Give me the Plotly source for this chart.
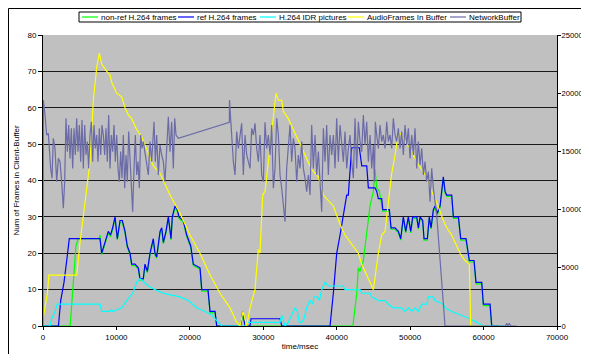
import plotly.graph_objects as go

# ---------------- data ----------------
# non-ref H.264 frames (left axis)
nonref_t = [0, 3700, 4130, 4490, 4810, 7620, 7760, 7990, 8440, 8890, 9190, 9490, 9810, 10120, 10490, 10800,
            11170, 11480, 11850, 12080, 12530, 12980, 13210, 13660, 13890, 14210, 14570, 15020, 15250, 15480,
            15940, 16170, 16390, 16750, 17070, 17300, 17430, 17610, 17980, 18290, 18520, 19110, 19570, 20120,
            20470, 21380, 21620, 22470, 22750, 23430, 23660, 26900, 27200, 27510, 42200, 42730, 42940, 43170,
            43630, 44090, 44540, 44990, 45220, 45450, 45810, 46270, 47170, 47400, 47940, 48390, 48720, 49070,
            49400, 49750, 50080, 50350, 50900, 51120, 51350, 51710, 51890, 52340, 52610, 52850, 53160, 53390,
            53700, 54070, 54520, 54750, 54980, 55660, 55890, 56570, 56890, 57610, 58060, 58700, 58970, 59750,
            59970, 60880, 61110, 62000]
nonref_v = [0, 0, 12, 22, 24, 24, 25, 19.6, 22.5, 25.5, 24.5, 26.5, 29.5, 23.6, 28.5, 28.5,
            25.5, 21.6, 19.6, 16.6, 16.6, 15.6, 12.6, 12.6, 16.5, 14.6, 19.5, 23.5, 19.6, 18.6,
            25.5, 26.5, 22.6, 25.5, 29.5, 26.6, 23.6, 29.5, 32.5, 31.5, 29.5, 28.5, 24.6, 21.6,
            16.6, 15.6, 9.6, 9.6, 3.6, 3.6, 0, 0, 3, 0, 0, 9, 16, 15,
            18, 25, 33, 37, 43, 38, 37, 31.6, 31.6, 26.6, 26.6, 25.6, 23.6, 29.6,
            25.6, 29.6, 25.6, 29.6, 29.6, 26.6, 29.6, 28.6, 23.6, 23.6, 29.6, 26.6, 31.6, 32.6,
            30.6, 32.6, 40.5, 36.6, 35.6, 35.6, 29.6, 29.6, 23.6, 23.6, 17.6, 17.6, 11.6, 11.6,
            5.6, 5.6, 0, 0]

# ref H.264 frames (left axis)
ref_t = [0, 2100, 2410, 2860, 3230, 3580, 7760, 7990, 8440, 8890, 9190, 9490, 9810, 10120, 10490, 10800,
         11170, 11480, 11850, 12080, 12530, 12980, 13210, 13660, 13890, 14210, 14570, 15020, 15250, 15480,
         15940, 16170, 16390, 16750, 17070, 17300, 17430, 17610, 17980, 18290, 18520, 19110, 19570, 20120,
         20470, 21380, 21620, 22470, 22750, 23430, 23660, 26900, 27200, 27510, 28190, 28330, 32280, 32510,
         39090, 39540, 40000, 40450, 40900, 41360, 41580, 42040, 43080, 43410, 44090, 44310, 45220, 45450,
         45670, 46130, 46270, 47170, 47400, 47940, 48390, 48720, 49070, 49400, 49750, 50080, 50350, 50900,
         51120, 51350, 51710, 51890, 52340, 52610, 52850, 53160, 53390, 53700, 54070, 54520, 54750, 54980,
         55660, 55890, 56570, 56890, 57610, 58060, 58700, 58970, 59750, 59970, 60880, 61110, 62000]
ref_v = [0, 0, 7, 12, 18, 24, 24, 20, 23, 26, 25, 27, 30, 24, 29, 29,
         26, 22, 20, 17, 17, 16, 13, 13, 17, 15, 20, 24, 20, 19,
         26, 27, 23, 26, 30, 27, 24, 30, 33, 32, 30, 29, 25, 22,
         17, 16, 10, 10, 4, 4, 0, 0, 4, 0, 0, 2, 2, 0,
         0, 9, 20, 25, 30, 36, 36, 49, 49, 44, 44, 38, 38, 37,
         35, 35, 32, 32, 27, 27, 26, 24, 30, 26, 30, 26, 30, 30,
         27, 30, 29, 24, 24, 30, 27, 32, 33, 31, 33, 41, 37, 36,
         36, 30, 30, 24, 24, 18, 18, 12, 12, 6, 6, 0, 0]

# H.264 IDR pictures (left axis)
idr_t = [0, 950, 1180, 1630, 1950, 7760, 7990, 9100, 9350, 9500, 10720, 11400, 12220, 12760, 13210, 14350,
         15250, 16390, 17530, 18660, 19790, 20930, 22060, 22980, 23880, 24340, 27510, 27740, 32280, 32510,
         32960, 33410, 33870, 34320, 34640, 34910, 35230, 35550, 35910, 36370, 36730, 36910, 37360, 37630,
         37960, 38410, 38860, 40900, 41130, 43180, 43410, 44540, 44770, 45670, 46580, 47030, 47710, 48850,
         49300, 49760, 50210, 50670, 51120, 51580, 52260, 52490, 53160, 53390, 54520, 54750, 55660, 57030,
         58160, 59070, 59970, 62900]
idr_v = [0, 0, 2, 4, 6, 6, 4, 4, 4.5, 4, 5, 7, 9, 12, 13, 11,
         10, 9, 8.5, 8, 7, 5, 4, 3, 1, 0, 0, 1, 1, 3,
         0, 1, 3, 5, 4, 1, 1, 2, 5, 7, 6, 8, 8, 7,
         10, 12, 11, 11, 10, 10, 9, 9, 8, 7, 7, 6, 5, 5,
         4, 5, 4, 5, 4, 6, 6, 8, 8, 7, 6, 5, 4, 3,
         2, 1, 0, 0]

# AudioFrames In Buffer (left axis)
audio_t = [0, 300, 600, 800, 4600, 5040, 5490, 6400, 6850, 7310, 7670, 7990, 8680, 9130, 9350, 10040,
           10720, 11170, 11620, 12080, 12760, 13440, 15020, 15940, 17300, 18660, 20020, 21380, 22750, 24110,
           25470, 26380, 26830, 27240, 27740, 28190, 28870, 29320, 29550, 29920, 30240, 30920, 31370, 31730,
           32050, 32510, 32730, 33410, 34090, 34770, 35680, 36600, 37500, 38180, 39540, 40450, 41130, 41810,
           42940, 43410, 44310, 44990, 45670, 46130, 46580, 47030, 47490, 47940, 48390, 48620, 49540, 50220,
           50900, 52260, 52940, 53620, 54520, 54980, 55660, 56350, 56800, 57480, 58060, 58250, 59930]
audio_v = [2, 6, 9, 14, 14, 23, 30, 45, 62, 71, 75, 72, 70, 69, 67, 64,
           63, 60, 58, 57, 54, 52, 44, 42, 36, 31, 25, 20, 14, 9,
           5, 1, 0, 4, 0, 5, 10, 21, 20, 36, 37, 50, 58, 64,
           62, 62, 59, 57, 54, 51, 47, 43, 41, 36, 33, 28, 25, 23,
           20, 17, 13, 10, 20, 25, 26, 34, 42, 47, 53, 53, 50, 48,
           45, 41, 37, 34, 29, 27, 25, 22, 20, 18, 17, 0, 0]

# NetworkBuffer (right axis)
net_t = [0, 50, 272, 499, 726, 862, 1044, 1225, 1407, 1634, 1861, 2088, 2315, 2542, 2769, 2951,
         3132, 3314, 3496, 3677, 3859, 4040, 4222, 4403, 4585, 4767, 4948, 5130, 5311, 5493, 5675, 5856,
         6038, 6219, 6401, 6583, 6764, 6946, 7127, 7309, 7491, 7672, 7854, 8035, 8217, 8399, 8580, 8762,
         8943, 9125, 9307, 9488, 9670, 9851, 10033, 10215, 10396, 10578, 10759, 10941, 11123, 11304, 11486,
         11667, 11849, 12031, 12212, 12394, 12575, 12757, 12939, 13120, 13302, 13483, 13665, 14346, 14573,
         14800, 15118, 15299, 15481, 15708, 15935, 16162, 16389, 16616, 16843, 17070, 17297, 17524, 17751,
         17933, 18114, 18432, 25378, 25400, 25696, 25923, 26150, 26377, 26604, 26831, 27058, 27285, 27512,
         27739, 27966, 28193, 28420, 28647, 28874, 29101, 29328, 29555, 29782, 30009, 30236, 30463, 30690,
         30917, 31144, 31371, 31598, 31825, 32052, 32279, 32506, 32733, 32960, 33187, 33414, 33641, 33868,
         34095, 34322, 34549, 34776, 35003, 35230, 35457, 35684, 35911, 36138, 36365, 36592, 36819, 37046,
         37273, 37500, 37727, 37954, 38181, 38408, 38635, 38862, 39089, 39316, 39543, 39770, 39997, 40224,
         40451, 40678, 40905, 41132, 41359, 41586, 41813, 42040, 42267, 42494, 42721, 42948, 43175, 43402,
         43629, 43856, 44083, 44310, 44537, 44764, 44991, 45127, 45263, 45445, 45672, 45899, 46126, 46353,
         46580, 46807, 47034, 47261, 47488, 47715, 47942, 48169, 48396, 48623, 48850, 49077, 49304, 49531,
         49758, 49985, 50212, 50439, 50666, 50893, 51120, 51347, 51574, 51801, 52028, 52255, 52482, 52709,
         52936, 53163, 53390, 53617, 54750, 63000, 63150, 63300, 63500, 63700, 64500]
net_v = [0, 19420, 18130, 16410, 16550, 14980, 13540, 12690, 16120, 15260, 12400, 14400, 14120, 12400, 10110, 12400,
         17840, 14980, 17270, 14400, 16980, 13540, 16980, 14690, 17840, 14980, 17270, 14120, 17700, 13540, 17270, 14690,
         15840, 13540, 16410, 17550, 14120, 17270, 15260, 16410, 14120, 16980, 14690, 17270, 16410, 14690, 16980, 14120,
         18130, 13540, 16410, 14980, 17270, 14120, 16410, 13540, 12400, 14980, 12690, 16410, 11830, 14690, 12400,
         16700, 14120, 12690, 9820, 13540, 16410, 12970, 14120, 11830, 16410, 15260, 15840, 12970, 15840,
         14120, 17550, 14120, 16410, 12970, 15550, 14690, 14120, 12400, 15550, 17980, 14980, 17550, 13540,
         17840, 16410, 16120, 17500, 19420, 16410, 14120, 12970, 16700, 15260, 16410, 17410, 12970, 16410,
         14690, 14120, 13540, 16980, 16410, 17410, 15260, 14120, 16410, 12970, 12400, 17500, 15260, 16410,
         14690, 17270, 11830, 13540, 17840, 16410, 12970, 11830, 10110, 8970, 13540, 15550, 17270, 14120,
         16120, 15260, 12400, 14690, 13540, 15840, 13540, 12690, 11540, 12970, 11260, 17270, 13540, 16410,
         12970, 14980, 12400, 9820, 16980, 14120, 17270, 12970, 16410, 14690, 16410, 13540, 17840, 14120,
         17270, 15260, 14120, 16700, 13540, 15260, 16410, 14120, 12690, 17840, 13540, 17550, 15840, 14980,
         18130, 15550, 17550, 14120, 16410, 13540, 15550, 12400, 17550, 16410, 15260, 17270, 15840, 16410,
         15260, 17550, 15840, 16410, 15260, 17840, 16410, 15840, 16980, 15260, 16700, 14690, 17270, 15550,
         16980, 14400, 16410, 14690, 16980, 13540, 15840, 13830, 15260, 12970, 14120, 12400, 13260, 10680,
         13540, 11830, 10680, 9540, 0, 0, 230, 0, 230, 0, 0]

series_names = ["non-ref H.264 frames", "ref H.264 frames", "H.264 IDR pictures",
                "AudioFrames In Buffer", "NetworkBuffer"]
series_colors = ["#00FF00", "#0000FF", "#00FFFF", "#FFFF00", "#6B6BA8"]

x_ticks = [0, 10000, 20000, 30000, 40000, 50000, 60000, 70000]
y_ticks = [0, 10, 20, 30, 40, 50, 60, 70, 80]
y2_ticks = [0, 5000, 10000, 15000, 20000, 25000]

# ---------------- layout constants ----------------
FONT = "Arial, 'Liberation Sans', sans-serif"
WIN_W, WIN_H = 589, 362
OFF = 8                               # page body margin of the browser
W, H = WIN_W - OFF, WIN_H - 2 * OFF   # keep the page free of scrollbars
# plot area in window pixels: x 43..557, y 35..326
PL, PR, PT, PB = 43, 557, 35, 326
ML, MR, MT, MB = PL - OFF, W - (PR - OFF), PT - OFF, H - (PB - OFF)
PW, PH = PR - PL, PB - PT


def px_x(px):
    return (px - PL) / PW


def px_y(py):
    return (PB - py) / PH


fig = go.Figure()
data_left = [(nonref_t, nonref_v), (ref_t, ref_v), (idr_t, idr_v), (audio_t, audio_v)]
for (tx, vy), name, col in zip(data_left, series_names[:4], series_colors[:4]):
    fig.add_trace(go.Scatter(x=tx, y=vy, name=name, mode="lines",
                             line=dict(color=col, width=1.2), yaxis="y", showlegend=False))
fig.add_trace(go.Scatter(x=net_t, y=net_v, name=series_names[4], mode="lines",
                         line=dict(color=series_colors[4], width=1.2), yaxis="y2", showlegend=False))

fig.update_layout(
    width=W, height=H,
    margin=dict(l=ML, r=MR, t=MT, b=MB, pad=0),
    paper_bgcolor="white", plot_bgcolor="#C0C0C0",
    font=dict(family=FONT, size=8, color="black"),
    showlegend=False,
    xaxis=dict(range=[0, 70000], tickvals=x_ticks, ticktext=[str(v) for v in x_ticks],
               showgrid=False, zeroline=False, showline=True, linecolor="black", linewidth=1,
               ticks="outside", ticklen=3, tickcolor="black", automargin=False,
               title=dict(text="time/msec", font=dict(size=8), standoff=2)),
    yaxis=dict(range=[0, 80], tickvals=y_ticks, showgrid=True, gridcolor="#1a1a1a", gridwidth=1,
               zeroline=False, showline=True, linecolor="black", linewidth=1,
               ticks="outside", ticklen=4, tickcolor="black", automargin=False,
               title=dict(text="Num of Frames in Client-Buffer", font=dict(size=8), standoff=6)),
    yaxis2=dict(range=[0, 25000], tickvals=y2_ticks, ticktext=[str(v) for v in y2_ticks],
                overlaying="y", side="right", automargin=False,
                showgrid=False, zeroline=False, showline=True, linecolor="black", linewidth=1,
                ticks="outside", ticklen=3, tickcolor="black", ticklabelstandoff=-1,
                tickfont=dict(size=7.6)),
)

# ---------------- legend box (drawn like the original single-row legend) ----------------
leg_box = (79, 12, 521, 22)            # left, top, right, bottom in window px
leg_line_x = [82, 178, 260, 348, 450]  # start of each sample line in window px
leg_line_len = 16
leg_y = (leg_box[1] + leg_box[3]) / 2
fig.add_shape(type="rect", xref="paper", yref="paper",
              x0=px_x(leg_box[0]), x1=px_x(leg_box[2]), y0=px_y(leg_box[3]), y1=px_y(leg_box[1]),
              line=dict(color="black", width=1), fillcolor="white", layer="above")
for lx, name, col in zip(leg_line_x, series_names, series_colors):
    fig.add_shape(type="line", xref="paper", yref="paper",
                  x0=px_x(lx), x1=px_x(lx + leg_line_len), y0=px_y(leg_y), y1=px_y(leg_y),
                  line=dict(color=col, width=1.2), layer="above")
    fig.add_annotation(xref="paper", yref="paper", x=px_x(lx + leg_line_len + 1), y=px_y(leg_y),
                       xanchor="left", yanchor="middle", text=name, showarrow=False,
                       font=dict(family=FONT, size=8, color="black"))

# outer chart frame (left and top edges visible)
fig.add_shape(type="line", xref="paper", yref="paper", x0=px_x(OFF + 0.5), x1=px_x(OFF + 0.5),
              y0=px_y(WIN_H + 5), y1=px_y(OFF + 0.5), line=dict(color="black", width=1))
fig.add_shape(type="line", xref="paper", yref="paper", x0=px_x(OFF + 0.5), x1=px_x(WIN_W + 5),
              y0=px_y(OFF + 0.5), y1=px_y(OFF + 0.5), line=dict(color="black", width=1))

fig.write_html("out.html")
